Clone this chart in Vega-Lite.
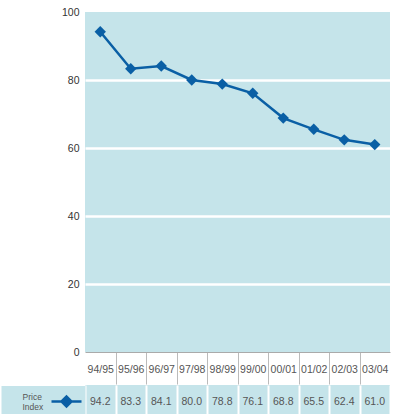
{
  "$schema": "https://vega.github.io/schema/vega-lite/v6.json",
  "padding": {"left": -14, "top": 7, "right": 0, "bottom": 0},
  "background": "white",
  "spacing": 0,
  "resolve": {"scale": {"color": "independent"}, "legend": {"color": "independent"}},
  "config": {
    "view": {"stroke": null},
    "font": "Liberation Sans, Arial, sans-serif"
  },
  "data": {
    "values": [
      {"season": "94/95", "value": 94.2},
      {"season": "95/96", "value": 83.3},
      {"season": "96/97", "value": 84.1},
      {"season": "97/98", "value": 80.0},
      {"season": "98/99", "value": 78.8},
      {"season": "99/00", "value": 76.1},
      {"season": "00/01", "value": 68.8},
      {"season": "01/02", "value": 65.5},
      {"season": "02/03", "value": 62.4},
      {"season": "03/04", "value": 61.0}
    ]
  },
  "vconcat": [
    {
      "width": 305,
      "height": 340,
      "view": {"fill": "#c5e4ea", "stroke": null},
      "mark": {
        "type": "line",
        "color": "#0a5fa5",
        "strokeWidth": 2.5,
        "point": {"shape": "diamond", "size": 130, "filled": true, "color": "#0a5fa5", "opacity": 1}
      },
      "encoding": {
        "x": {
          "field": "season",
          "type": "ordinal",
          "sort": null,
          "scale": {"paddingInner": 0, "paddingOuter": 0},
          "axis": {
            "title": null,
            "labelAngle": 0,
            "tickBand": "extent",
            "tickSize": 32,
            "tickColor": {"condition": {"test": "datum.extra || datum.index === 1", "value": "transparent"}, "value": "#bbbbbb"},
            "tickWidth": 1,
            "domain": true,
            "domainColor": "#aaaaaa",
            "domainWidth": 1,
            "labelPadding": -19.5,
            "labelFontSize": 10.5,
            "labelColor": "#555555",
            "grid": false,
            "minExtent": 32,
            "maxExtent": 32
          }
        },
        "y": {
          "field": "value",
          "type": "quantitative",
          "scale": {"domain": [0, 100]},
          "axis": {
            "title": null,
            "values": [0, 20, 40, 60, 80, 100],
            "domain": false,
            "ticks": false,
            "grid": true,
            "gridColor": "white",
            "gridWidth": 2.5,
            "gridOpacity": {"condition": {"test": "datum.value === 0 || datum.value === 100", "value": 0}, "value": 1},
            "labelPadding": 6,
            "labelFontSize": 10.5,
            "labelColor": "#333333",
            "minExtent": 84,
            "maxExtent": 84
          }
        }
      }
    },
    {
      "width": 305,
      "height": 29,
      "view": {"fill": "#c5e4ea", "stroke": null},
      "layer": [
        {
          "mark": {"type": "text", "fontSize": 10.5, "color": "#555555", "dy": 2},
          "encoding": {
            "x": {
              "field": "season",
              "type": "ordinal",
              "sort": null,
              "scale": {"paddingInner": 0, "paddingOuter": 0},
              "axis": {
                "title": null,
                "labels": false,
                "ticks": false,
                "domain": false,
                "grid": true,
                "gridColor": "white",
                "gridWidth": 2,
                "tickBand": "extent",
                "minExtent": 0,
                "maxExtent": 0
              }
            },
            "y": {
              "datum": "Price Index",
              "type": "nominal",
              "scale": {"paddingInner": 0, "paddingOuter": 0},
              "axis": {
                "title": null,
                "domain": false,
                "grid": false,
                "ticks": true,
                "tickSize": 84,
                "tickWidth": 29,
                "tickColor": "#c5e4ea",
                "labelPadding": -21,
                "labelAlign": "left",
                "labelBaseline": "middle",
                "labelOffset": -3,
                "labelExpr": "split(datum.label, ' ')",
                "labelFontSize": 8.5,
                "labelLineHeight": 10,
                "labelColor": "#555555",
                "minExtent": 84,
                "maxExtent": 84
              }
            },
            "text": {"field": "value", "type": "quantitative", "format": ".1f"}
          }
        },
        {
          "data": {"values": []},
          "mark": {"type": "point", "filled": true},
          "encoding": {
            "color": {
              "datum": "Price Index",
              "type": "nominal",
              "scale": {"range": ["#0a5fa5"]},
              "legend": {
                "orient": "left",
                "offset": -101,
                "title": null,
                "labelExpr": "''",
                "labelOffset": 0,
                "labelFontSize": 1,
                "padding": 0,
                "symbolSize": 900,
                "symbolType": "M-1,0H1M-0.33,0L0,-0.33L0.33,0L0,0.33Z",
                "symbolStrokeWidth": 2.5,
                "symbolFillColor": "#0a5fa5",
                "symbolStrokeColor": "#0a5fa5",
                "symbolOpacity": 1,
                "encode": {
                  "symbols": {
                    "update": {
                      "fill": {"value": "#0a5fa5"},
                      "stroke": {"value": "#0a5fa5"},
                      "strokeWidth": {"value": 2.5},
                      "opacity": {"value": 1}
                    }
                  }
                }
              }
            }
          }
        }
      ]
    }
  ]
}
